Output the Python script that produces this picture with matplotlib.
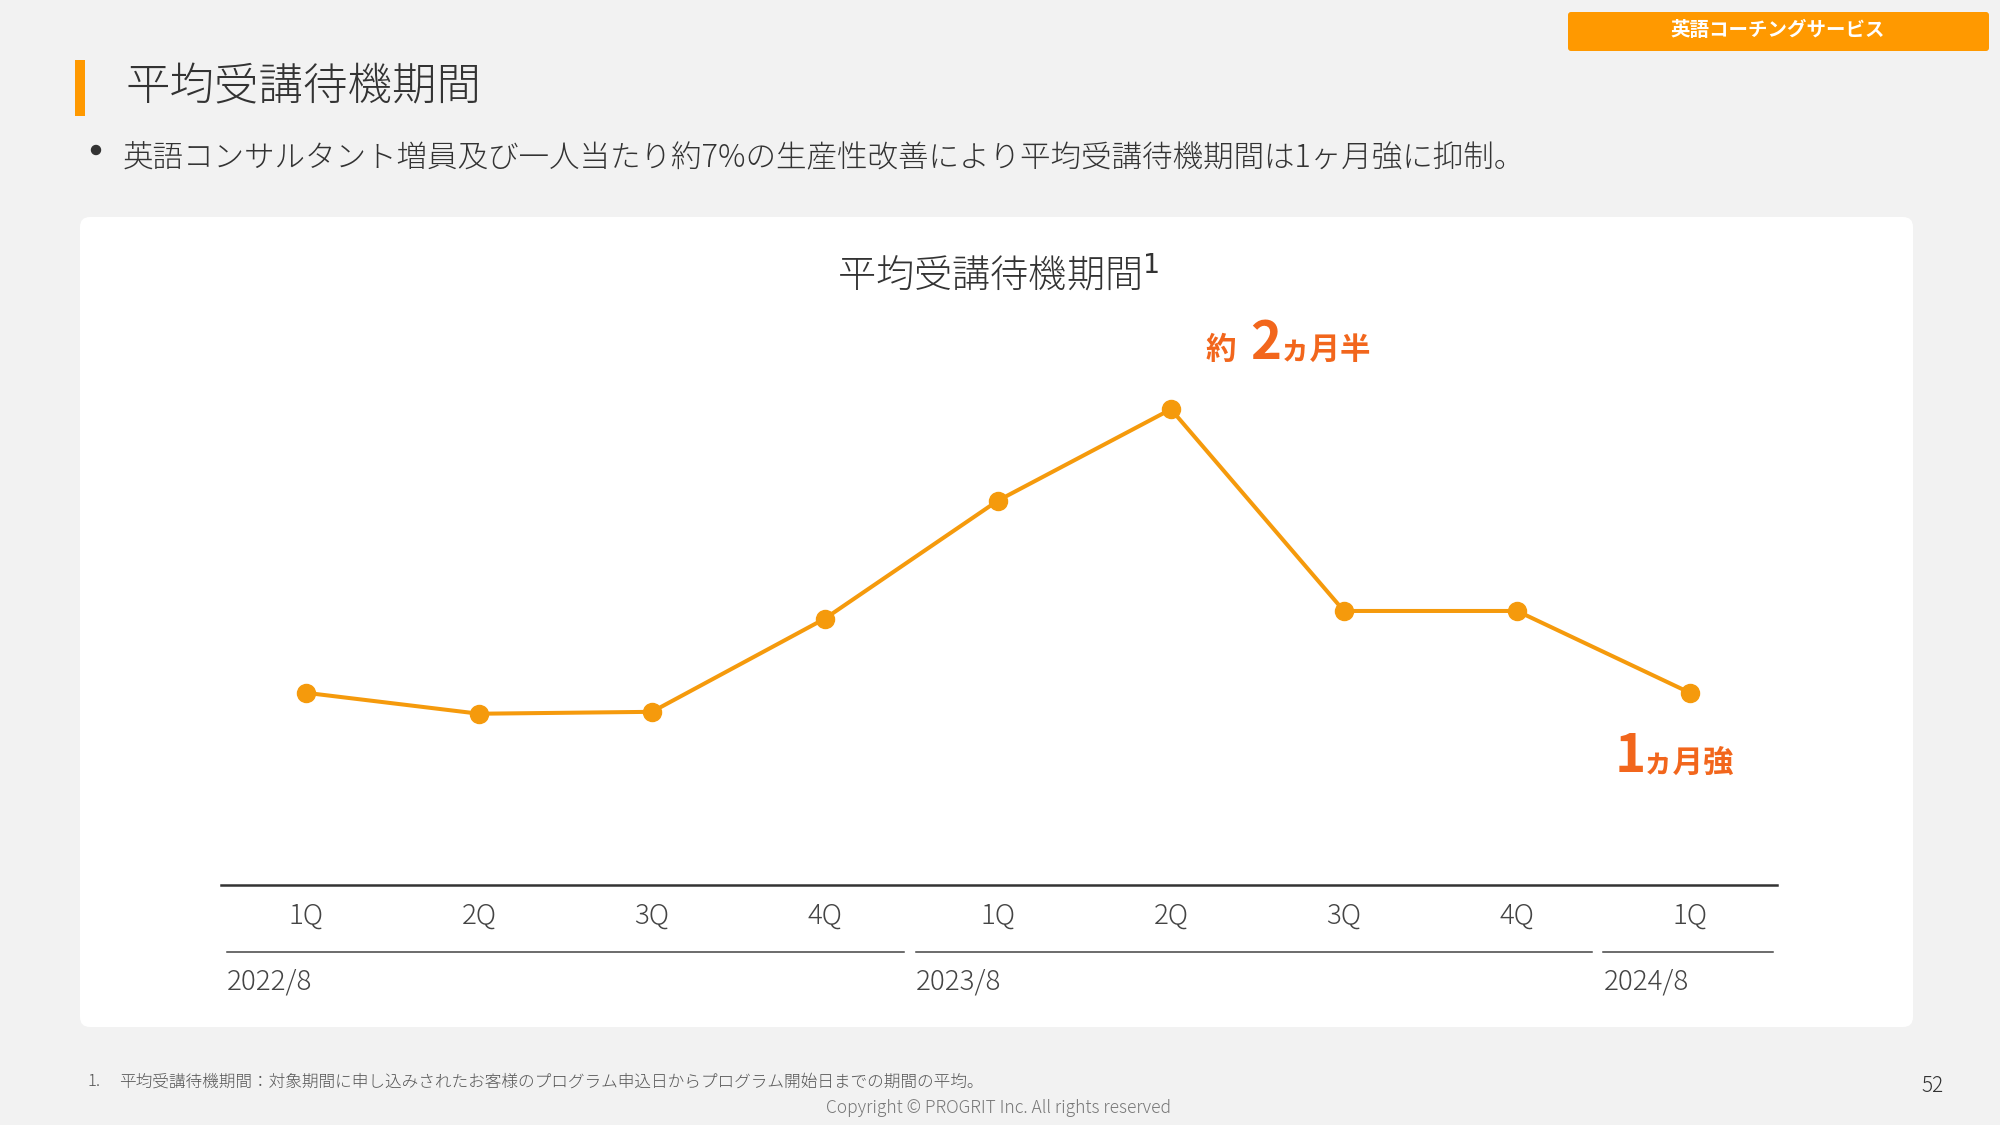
import matplotlib.pyplot as plt
from matplotlib.patches import FancyBboxPatch, Circle
from matplotlib.lines import Line2D
import matplotlib.transforms as mtransforms

plt.rcParams['font.family'] = ['Noto Sans CJK JP', 'DejaVu Sans']

# data: average waiting period (months)
quarters = ['1Q', '2Q', '3Q', '4Q', '1Q', '2Q', '3Q', '4Q', '1Q']
wait_months = [1.01, 0.90, 0.91, 1.40, 2.02, 2.50, 1.44, 1.44, 1.01]
years = ['2022/8', '2023/8', '2024/8']
year_sizes = [4, 4, 1]

ORANGE = '#F59A0C'
BADGE = '#FF9900'
ACCENT = '#F2661C'
TEXT = '#333333'
BG = '#F2F2F2'
LIGHT = 'light'

W, H = 2000, 1125
fig = plt.figure(figsize=(20, 11.25), dpi=100, facecolor=BG)
tr = fig.dpi_scale_trans


def P(x, y):
    # page pixels (top-left origin) -> inches
    return x / 100, (H - y) / 100


# white card
x0, y0 = P(80, 1027)
card = FancyBboxPatch((x0, y0), (1913 - 80) / 100, (1027 - 217) / 100,
                      boxstyle='round,pad=0,rounding_size=0.1',
                      transform=tr, facecolor='white', edgecolor='none', zorder=-1)
fig.patches.append(card)

# header
bx, by = P(75, 116)
fig.patches.append(FancyBboxPatch((bx, by), 0.1, 0.56, boxstyle='square,pad=0',
                                  transform=tr, facecolor=BADGE, edgecolor='none'))
fig.text(*P(126, 88), '平均受講待機期間', transform=tr, fontsize=32,
         color=TEXT, va='center', ha='left', fontweight=LIGHT)
fig.patches.append(Circle(P(96, 150), 0.045, transform=tr, color=TEXT))
fig.text(*P(123, 158), '英語コンサルタント増員及び一人当たり約7%の生産性改善により平均受講待機期間は1ヶ月強に抑制。',
         transform=tr, fontsize=22, color=TEXT, va='center', ha='left', fontweight=LIGHT)

# badge top right
bx, by = P(1568, 51)
fig.patches.append(FancyBboxPatch((bx, by), (1989 - 1568) / 100, 0.39,
                                  boxstyle='round,pad=0,rounding_size=0.03',
                                  transform=tr, facecolor=BADGE, edgecolor='none'))
fig.text(*P(1778, 30), '英語コーチングサービス', transform=tr, fontsize=14,
         color='white', fontweight='bold', va='center', ha='center')

# chart title
fig.text(*P(998, 275), '平均受講待機期間$^{1}$', transform=tr, fontsize=27.5,
         color=TEXT, va='center', ha='center', fontweight=LIGHT)

# chart
ax = fig.add_axes([221 / W, (H - 885) / H, 1556 / W, 585 / H])
ax.patch.set_visible(False)
xs = list(range(len(wait_months)))
ax.plot(xs, wait_months, color=ORANGE, lw=2.9, marker='o', ms=13,
        mfc=ORANGE, mec=ORANGE, clip_on=False, zorder=3)
ax.set_xlim(-0.491, 8.503)
ax.set_ylim(0, 585 / 190.3)
for s in ['top', 'right', 'left']:
    ax.spines[s].set_visible(False)
ax.spines['bottom'].set_linewidth(1.8)
ax.spines['bottom'].set_color(TEXT)
ax.set_xticks([])
ax.set_yticks([])

blend = mtransforms.blended_transform_factory(ax.transData, ax.transAxes)
for i, q in enumerate(quarters):
    ax.text(i, -0.053, q, transform=blend, ha='center', va='center',
            fontsize=20, color='#444444', fontweight=LIGHT)

# year group underlines (padding around each group, in category units)
left_pad = [0.457, 0.474, 0.50]
right_pad = [0.457, 0.434, 0.48]
start = 0
for yr, n, lp, rp in zip(years, year_sizes, left_pad, right_pad):
    left = start - lp
    right = start + n - 1 + rp
    ax.add_line(Line2D([left, right], [-0.1137, -0.1137], transform=blend,
                       color='#444444', lw=1.1, clip_on=False))
    ax.text(left, -0.165, yr, transform=blend, ha='left', va='center',
            fontsize=20, color='#444444', fontweight=LIGHT)
    start += n

# callouts
peak = (5, wait_months[5])
ax.annotate('約', xy=peak, xytext=(35, 50), textcoords='offset pixels',
            ha='left', va='baseline', fontsize=22, fontweight='bold', color=ACCENT)
ax.annotate('2', xy=peak, xytext=(79, 50), textcoords='offset pixels',
            ha='left', va='baseline', fontsize=38, fontweight='bold', color=ACCENT)
ax.annotate('ヵ月半', xy=peak, xytext=(109, 50), textcoords='offset pixels',
            ha='left', va='baseline', fontsize=22, fontweight='bold', color=ACCENT)

last = (8, wait_months[8])
ax.annotate('1', xy=last, xytext=(-75, -79), textcoords='offset pixels',
            ha='left', va='baseline', fontsize=38, fontweight='bold', color=ACCENT)
ax.annotate('ヵ月強', xy=last, xytext=(-47, -79), textcoords='offset pixels',
            ha='left', va='baseline', fontsize=22, fontweight='bold', color=ACCENT)

# footer
fig.text(*P(88, 1082), '1.', transform=tr, fontsize=12, color='#555555',
         va='center', ha='left', fontweight=LIGHT)
fig.text(*P(119, 1082), '平均受講待機期間：対象期間に申し込みされたお客様のプログラム申込日からプログラム開始日までの期間の平均。',
         transform=tr, fontsize=12, color='#555555', va='center', ha='left', fontweight=LIGHT)
fig.text(*P(998, 1108), 'Copyright © PROGRIT Inc. All rights reserved', transform=tr,
         fontsize=12.5, color='#777777', va='center', ha='center', fontweight=LIGHT)
fig.text(*P(1932, 1086), '52', transform=tr, fontsize=15, color=TEXT,
         va='center', ha='center', fontweight=LIGHT)

fig.savefig('out.png', dpi=100, facecolor=BG)
